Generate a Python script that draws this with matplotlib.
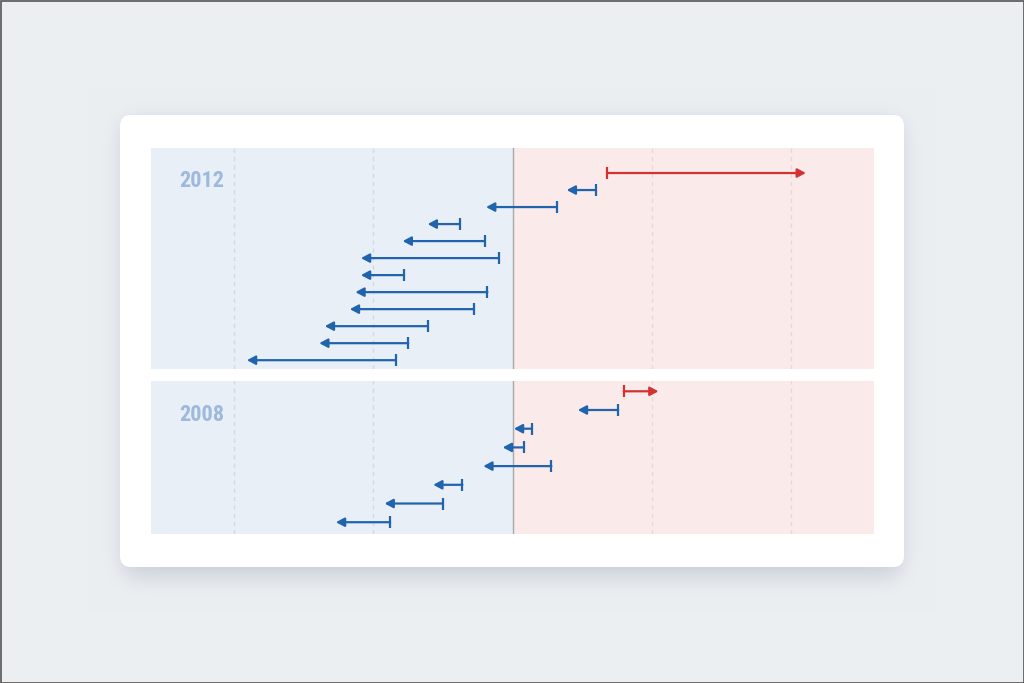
import numpy as np
import matplotlib
matplotlib.use("Agg")
import matplotlib.pyplot as plt
from matplotlib.patches import FancyBboxPatch, Rectangle

# Shift per row: tick marks the start value, arrow head the end value
years = ["2012", "2008"]
start_2012 = [6.8, 6.0, 3.2, -3.8, -2.0, -1.0, -7.8, -1.8, -2.8, -6.1, -7.5, -8.4]
end_2012 = [21.1, 3.9, -1.9, -6.1, -7.9, -10.9, -10.9, -11.3, -11.7, -13.5, -13.9, -19.1]
start_2008 = [8.0, 7.6, 1.4, 0.8, 2.8, -3.6, -5.0, -8.8]
end_2008 = [10.5, 4.7, 0.1, -0.7, -2.1, -5.7, -9.2, -12.7]
grid_ticks = [-20, -10, 10, 20]

W, H = 1024, 683
BLUE = "#2064ae"
RED = "#d43131"

fig = plt.figure(figsize=(W / 100, H / 100), dpi=100)

# Background layer in pixel coordinates
bg = fig.add_axes([0, 0, 1, 1])
bg.set_xlim(0, W)
bg.set_ylim(H, 0)
bg.axis("off")

# soft drop shadow under the card, blurred with numpy
img = np.zeros((H, W))
img[123:575, 124:900] = 1.0
sig = 12
k = np.exp(-0.5 * (np.arange(-3 * sig, 3 * sig + 1) / sig) ** 2)
k /= k.sum()
img = np.apply_along_axis(lambda r: np.convolve(r, k, mode="same"), 1, img)
img = np.apply_along_axis(lambda c: np.convolve(c, k, mode="same"), 0, img)
base = np.array([236, 239, 242]) / 255.0
shade = np.array([150, 160, 178]) / 255.0
a = (img * 0.45)[..., None]
rgb = base * (1 - a) + shade * a
bg.imshow(rgb, extent=(0, W, H, 0), aspect="auto", zorder=0)

card = FancyBboxPatch((120, 115), 784, 452,
                      boxstyle="round,pad=0,rounding_size=11",
                      facecolor="#ffffff", edgecolor="none", zorder=2)
bg.add_patch(card)
bg.add_patch(Rectangle((0.5, 0.5), W - 1, H - 1, facecolor="none",
                       edgecolor="#555555", lw=1.2, zorder=3))


def draw_panel(rect, starts, ends, label, ylim, label_y):
    ax = fig.add_axes(rect)
    ax.set_xlim(-26, 26)
    ax.set_ylim(*ylim)
    ax.set_facecolor("#e9eff7")
    ax.axvspan(0, 26, color="#fbeaea", lw=0, zorder=0)
    for g in grid_ticks:
        c = "#d2dae5" if g < 0 else "#eed4d7"
        ax.axvline(g, color=c, lw=1, ls=(0, (3, 3)), zorder=1)
    ax.axvline(0, color="#a9a9ad", lw=1, zorder=2)

    for i, (s, e) in enumerate(zip(starts, ends)):
        col = RED if e > s else BLUE
        ax.annotate("", xy=(e, i), xytext=(s, i),
                    arrowprops=dict(arrowstyle="-|>,head_length=0.45,head_width=0.24",
                                    color=col, lw=1.6, shrinkA=0, shrinkB=0,
                                    mutation_scale=11),
                    zorder=4)
        ax.plot([s], [i], marker="|", ms=8, mew=1.6, color=col, zorder=4)

    ax.text(0.0701, label_y, label, transform=ax.transAxes, ha="center", va="baseline",
            fontsize=16, fontweight="bold", color="#9db9dc",
            family=["Roboto Condensed", "Roboto", "DejaVu Sans"])
    for sp in ax.spines.values():
        sp.set_visible(False)
    ax.set_xticks([])
    ax.set_yticks([])
    return ax


left = 151 / W
width = 723 / W
draw_panel([left, 314.3 / H, width, 221.2 / H], start_2012, end_2012,
           years[0], (11.5, -1.5), 0.82)
draw_panel([left, 149 / H, width, 153 / H], start_2008, end_2008,
           years[1], (7.63, -0.55), 0.741)

fig.savefig("out.png", dpi=100)
